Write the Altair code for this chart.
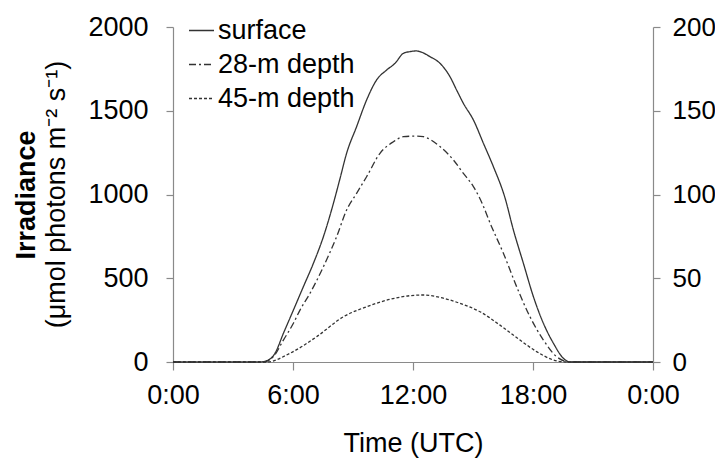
import altair as alt
import pandas as pd

# ---- data ----
series_names = ["surface", "28-m depth", "45-m depth"]

surface_h = [0, 4.35, 4.77, 5.1, 5.52, 6.02, 6.52, 7.02, 7.52, 8.02, 8.35, 8.68, 9.18, 9.68,
             10.18, 10.68, 11.1, 11.52, 11.85, 12.18, 12.35, 12.85, 13.35, 13.85, 14.18,
             14.52, 15.02, 15.52, 16.02, 16.6, 17.02, 17.52, 18.02, 18.52, 19.02, 19.52,
             19.85, 24]
surface_v = [0, 0, 12, 52, 171, 310, 450, 589, 748, 947, 1095, 1246, 1405, 1564,
             1684, 1743, 1783, 1843, 1853, 1857, 1853, 1823, 1783, 1703, 1624,
             1544, 1445, 1306, 1166, 980, 788, 589, 390, 231, 112, 22,
             0, 0]

d28_h = [0, 4.5, 5.02, 5.52, 6.02, 6.35, 6.85, 7.52, 8.18, 8.68, 9.18, 9.68, 10.35, 11.02,
         11.52, 12.18, 12.52, 13.35, 14.02, 14.52, 15.02, 15.35, 15.93, 16.52, 17.18,
         17.85, 18.52, 19.18, 19.85, 24]
d28_v = [0, 0, 3.2, 13.1, 23.1, 31, 41, 56.9, 74.8, 90.7, 100.7, 110.6, 124.6, 131.5,
         134.5, 134.9, 134.5, 128.6, 120.6, 112.6, 104.7, 97.5, 80.8, 64.9, 45,
         27, 13.1, 3.2, 0, 0]

d45_h = [0, 4.68, 5.85, 7.18, 8.52, 9.68, 10.85, 11.85, 12.52, 13.35, 14.35, 15.35, 16.35,
         17.35, 18.18, 19.02, 19.68, 24]
d45_v = [0, 0, 5.2, 15.1, 27, 33, 37.4, 39.6, 40, 38.6, 35, 30, 22,
         13.1, 6.2, 1.2, 0, 0]

x_ticks = [0, 6, 12, 18, 24]
left_ticks = [0, 500, 1000, 1500, 2000]
right_ticks = [0, 50, 100, 150, 200]

y_title = "Irradiance"
y_subtitle = "(\u03bcmol photons m\u207b\u00b2 s\u207b\u00b9)"
x_title = "Time (UTC)"

# ---- tables ----
df_left = pd.DataFrame({"h": surface_h, "v": surface_v, "s": series_names[0]})
df_right = pd.concat([
    pd.DataFrame({"h": d28_h, "v": d28_v, "s": series_names[1]}),
    pd.DataFrame({"h": d45_h, "v": d45_v, "s": series_names[2]}),
], ignore_index=True)

FONT = "Liberation Sans"
FS = 27
LINE = "#333333"
AX = "#8a8a8a"

dash_enc = alt.StrokeDash(
    "s:N",
    scale=alt.Scale(domain=series_names, range=[[1, 0], [7, 3, 2, 3], [3, 2]]),
    legend=alt.Legend(
        title=None, orient="none", legendX=15, legendY=-10,
        symbolType="stroke", symbolSize=625, symbolStrokeWidth=1.3,
        symbolStrokeColor=LINE, labelFontSize=FS, labelFont=FONT,
        labelColor="black", rowPadding=6, labelOffset=3, padding=0,
    ),
)

x_enc = alt.X(
    "h:Q",
    scale=alt.Scale(domain=[0, 24], nice=False),
    axis=alt.Axis(
        values=x_ticks, labelExpr="(datum.value % 24) + ':00'",
        title=x_title, titleY=89, titleBaseline="alphabetic",
        tickSize=8, labelPadding=12, titleFontWeight="normal", labelFlush=False,
    ),
)

left = alt.Chart(df_left).mark_line(strokeWidth=1.3, color=LINE, interpolate="monotone").encode(
    x=x_enc,
    y=alt.Y(
        "v:Q",
        scale=alt.Scale(domain=[0, 2000], nice=False),
        axis=alt.Axis(
            values=left_ticks, format="d", title=y_title, titleFontWeight="bold",
            titleX=-139, titleY=167.5, titleAngle=270, titleAlign="center",
            titleBaseline="alphabetic", tickSize=7, labelPadding=18, labelFlush=False,
        ),
    ),
    strokeDash=dash_enc,
)

right = alt.Chart(df_right).mark_line(strokeWidth=1.3, color=LINE, interpolate="monotone").encode(
    x=x_enc,
    y=alt.Y(
        "v:Q",
        scale=alt.Scale(domain=[0, 200], nice=False),
        axis=alt.Axis(orient="right", values=right_ticks, format="d", title=None,
                      tickSize=7, labelPadding=12, labelFlush=False, labelFontSize=26),
    ),
    strokeDash=dash_enc,
)

sub = alt.Chart(pd.DataFrame({"t": [y_subtitle]})).mark_text(
    angle=270, font=FONT, fontSize=FS, baseline="alphabetic", align="center", color="black"
).encode(text="t:N", x=alt.value(-108.5), y=alt.value(167.5))

chart = alt.layer(left, right, sub).resolve_scale(y="independent").properties(
    width=480, height=335,
    autosize=alt.AutoSizeParams(type="none"),
    padding={"left": 165, "top": 19, "right": 62, "bottom": 97},
).configure_view(stroke=None).configure_axis(
    grid=False, domainColor=AX, tickColor=AX, domainWidth=1.2, tickWidth=1.2,
    labelFont=FONT, labelFontSize=FS, labelColor="black",
    titleFont=FONT, titleFontSize=FS, titleColor="black",
)

chart.save("out.html", embed_options={"renderer": "svg", "actions": False})
